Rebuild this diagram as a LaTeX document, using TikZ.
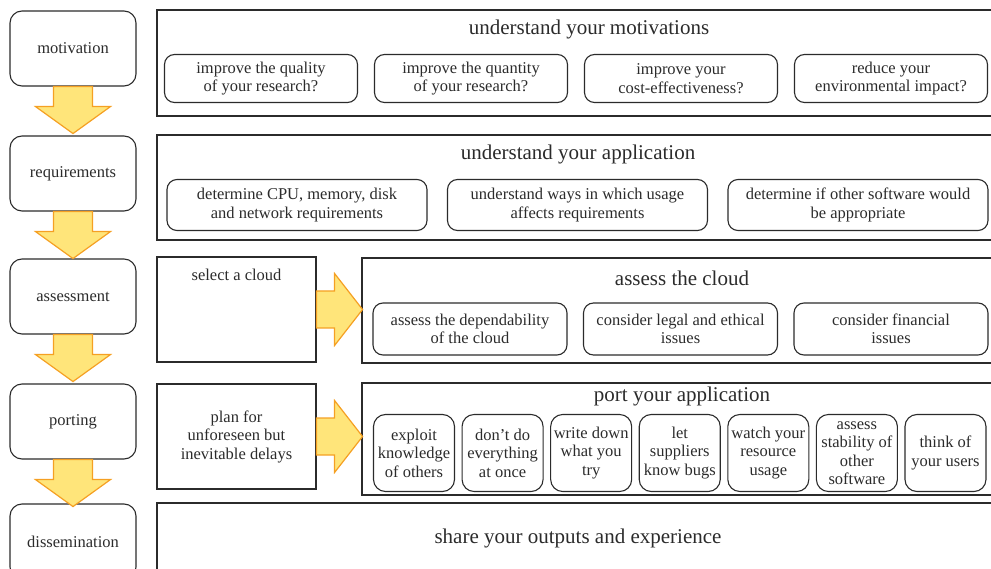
\documentclass[tikz,border=0pt]{standalone}
\usepackage{fontspec}
\setmainfont{Liberation Serif}
\usetikzlibrary{positioning}
\definecolor{ink}{HTML}{2B2B2B}
\definecolor{arrfill}{HTML}{FFE57A}
\definecolor{arrline}{HTML}{F5A023}

\begin{document}
\begin{tikzpicture}[x=1pt,y=-1pt,line width=1.1pt,
	every node/.style={text=ink,font=\fontsize{16.5}{18.5}\selectfont},
	stage/.style={draw=ink,rounded corners=12,minimum width=126,minimum height=75},
	panel/.style={draw=ink,rectangle},
	item/.style={draw=ink,rounded corners=10,align=center,inner sep=1pt},
	heading/.style={inner sep=0pt,font=\fontsize{21}{24}\selectfont},
	arr/.style={fill=arrfill,draw=arrline,line width=1.2pt,line join=miter},
	downarr/.pic={\draw[arr] (-19.5,0) -- (-19.5,20) -- (-37.5,20) -- (0,47) -- (37.5,20) -- (19.5,20) -- (19.5,0) -- cycle;},
	rightarr/.pic={\draw[arr] (0,-18.5) -- (18,-18.5) -- (18,-36) -- (46,0) -- (18,36) -- (18,18.5) -- (0,18.5) -- cycle;}]
	\useasboundingbox (0,0) rectangle (991,569);
	\clip (0,0) rectangle (991,569);

	% stages on the left
	\node[stage] (mot) at (73,48.5)  {motivation};
	\node[stage] (req) at (73,173.5) {requirements};
	\node[stage] (ass) at (73,296.5) {assessment};
	\node[stage] (por) at (73,421.5) {porting};
	\node[stage] (dis) at (73,541.5) {dissemination};
	\pic at (mot.south) {downarr};
	\pic at (req.south) {downarr};
	\pic at (ass.south) {downarr};
	\pic at (por.south) {downarr};

	% motivations
	\node[panel,minimum width=864,minimum height=106] (motp) at (589,63) {};
	\node[heading,below=10pt of motp.north] (motT) {understand your motivations};
	\foreach \t [count=\i] in {{improve the quality\\of your research?},{improve the quantity\\of your research?},
		{improve your\\cost-effectiveness?},{reduce your\\environmental impact?}}
		\node[item,minimum width=193,minimum height=48] (m\i) at ({261+210*(\i-1)},78.5) {\t};

	% requirements
	\node[panel,minimum width=842,minimum height=105] (reqp) at (578,187.5) {};
	\node[heading,below=10pt of reqp.north] (reqT) {understand your application};
	\foreach \t [count=\i] in {{determine CPU, memory, disk\\and network requirements},{understand ways in which usage\\affects requirements},
		{determine if other software would\\be appropriate}}
		\node[item,minimum width=260,minimum height=51] (r\i) at ({297+280.5*(\i-1)},205) {\t};

	% assessment
	\node[panel,minimum width=159,minimum height=105] (sel) at (236.5,309.5) {};
	\node[below=9pt of sel.north] (selT) {select a cloud};
	\node[panel,minimum width=640,minimum height=105] (assp) at (682,310.5) {};
	\node[heading,below=13pt of assp.north] (assT) {assess the cloud};
	\foreach \t [count=\i] in {{assess the dependability\\of the cloud},{consider legal and ethical\\issues},{consider financial\\issues}}
		\node[item,minimum width=194,minimum height=52] (a\i) at ({470+210.5*(\i-1)},329) {\t};
	\pic at (sel.east) {rightarr};

	% porting
	\node[panel,minimum width=159,minimum height=105,align=center] (plan) at (236.5,436.5) {plan for\\unforeseen but\\inevitable delays};
	\node[panel,minimum width=640,minimum height=112] (porp) at (682,439) {};
	\node[heading,below=4pt of porp.north] (porT) {port your application};
	\foreach \t [count=\i] in {{exploit\\knowledge\\of others},{don't do\\everything\\at once},{write down\\what you\\try},
		{let\\suppliers\\know bugs},{watch your\\resource\\usage},{assess\\stability of\\other\\software},{think of\\your users}}
		\node[item,rounded corners=12,inner sep=0pt,minimum width=81,minimum height=77] (p\i) at ({414+88.58*(\i-1)},453) {\t};
	\pic at (plan.east) {rightarr};

	% dissemination
	\node[panel,minimum width=842,minimum height=70,font=\fontsize{21}{24}\selectfont] (share) at (578,538) {share your outputs and experience};
\end{tikzpicture}
\end{document}
